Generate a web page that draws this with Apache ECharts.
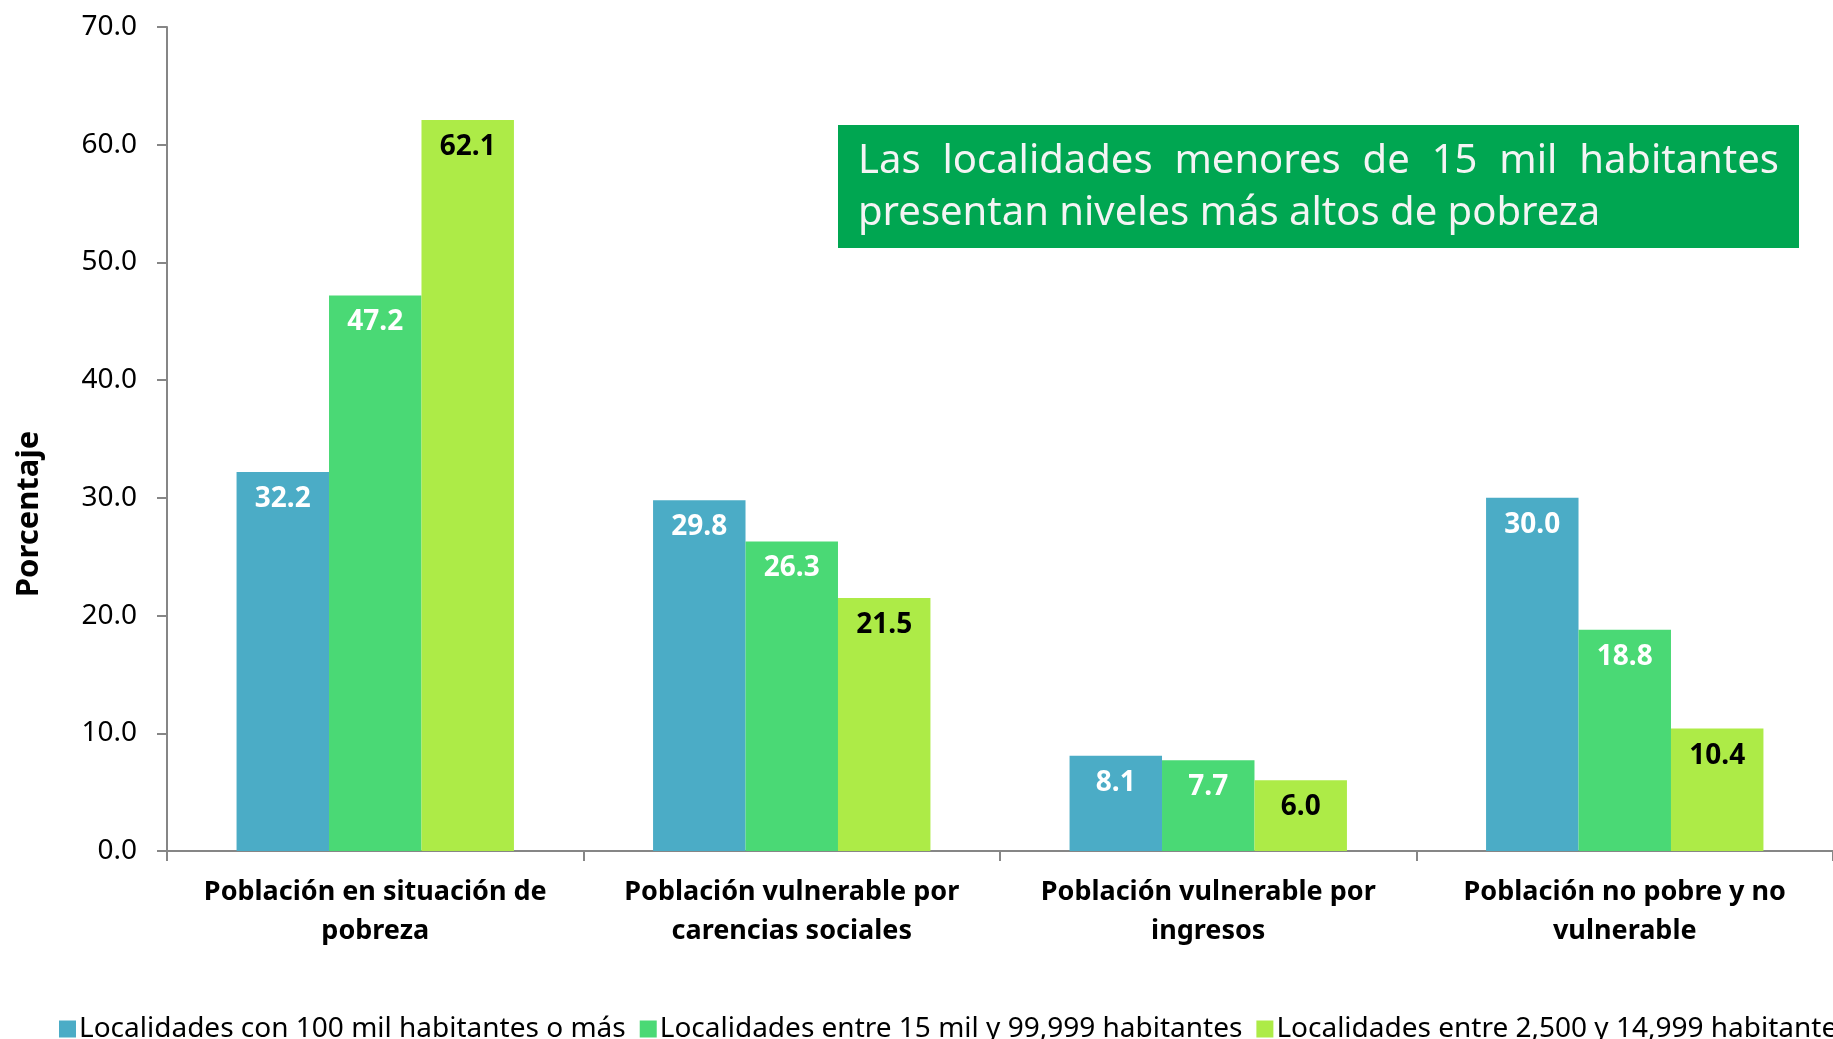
<!DOCTYPE html>
<html>
<head>
<meta charset="utf-8">
<script src="https://cdn.jsdelivr.net/npm/echarts@6/dist/echarts.min.js"></script>
<style>
  html, body { margin: 0; padding: 0; background: #fff; }
  #chart { width: 1833px; height: 1039px; }
</style>
</head>
<body>
<div id="chart"></div>
<script>
// datos
const categorias = [
  'Población en situación de\npobreza',
  'Población vulnerable por\ncarencias sociales',
  'Población vulnerable por\ningresos',
  'Población no pobre y no\nvulnerable'
]
const nombresSeries = [
  'Localidades con 100 mil habitantes o más',
  'Localidades entre 15 mil y 99,999 habitantes',
  'Localidades entre 2,500 y 14,999 habitantes'
]
const grandes = [32.2, 29.8, 8.1, 30.0]
const medianas = [47.2, 26.3, 7.7, 18.8]
const pequenas = [62.1, 21.5, 6.0, 10.4]
const colores = ['#4BACC6', '#4AD975', '#ADEB47']
const colorEtiqueta = ['#ffffff', '#ffffff', '#000000']
const nota = ['Las localidades menores de 15 mil habitantes', 'presentan niveles más altos de pobreza']

const fuente = "'Noto Sans', sans-serif"

// justificar la primera linea de la nota como en el original
function palabras (texto, x0, x1, y, justificar) {
  const ctx = document.createElement('canvas').getContext('2d')
  ctx.font = '40px ' + fuente
  const ws = texto.split(' ')
  const anchos = ws.map(w => ctx.measureText(w).width)
  const total = anchos.reduce((a, b) => a + b, 0)
  const hueco = justificar ? (x1 - x0 - total) / (ws.length - 1) : ctx.measureText(' ').width
  let x = x0
  return ws.map((w, i) => {
    const el = {
      type: 'text',
      x: x,
      y: y,
      style: { text: w, fill: '#F4F4F4', font: '40px ' + fuente, textVerticalAlign: 'middle' }
    }
    x += anchos[i] + hueco
    return el
  })
}

const datos = [grandes, medianas, pequenas]
const series = datos.map((d, i) => ({
  name: nombresSeries[i],
  type: 'bar',
  data: d,
  barGap: 0,
  barCategoryGap: '33.4%',
  itemStyle: { color: colores[i] },
  label: {
    show: true,
    position: 'insideTop',
    distance: 13,
    color: colorEtiqueta[i],
    fontSize: 28,
    fontWeight: 'bold',
    fontFamily: fuente,
    formatter: p => p.value.toFixed(1)
  }
}))

const myChart = echarts.init(document.getElementById('chart'))
const option = {
  animation: false,
  grid: { left: 167, right: -4, top: 27, bottom: 188 },
  xAxis: {
    type: 'category',
    data: categorias,
    axisLine: { lineStyle: { color: '#868686', width: 2 } },
    axisTick: { show: true, length: 10, lineStyle: { color: '#868686', width: 2 } },
    axisLabel: {
      interval: 0,
      margin: 22,
      color: '#000',
      fontSize: 27,
      fontWeight: 'bold',
      lineHeight: 39,
      fontFamily: fuente
    }
  },
  yAxis: {
    type: 'value',
    min: 0,
    max: 70,
    interval: 10,
    splitLine: { show: false },
    axisLine: { show: true, lineStyle: { color: '#868686', width: 2 } },
    axisTick: { show: true, length: 10, lineStyle: { color: '#868686', width: 2 } },
    axisLabel: {
      margin: 30,
      color: '#000',
      fontSize: 28,
      fontFamily: fuente,
      formatter: v => v.toFixed(1)
    }
  },
  legend: {
    left: 54,
    top: 1010,
    width: 3000,
    icon: 'rect',
    itemWidth: 17,
    itemHeight: 17,
    itemGap: 14,
    textStyle: { fontSize: 28, color: '#000', fontFamily: fuente, padding: [0, 0, 0, -2] },
    data: nombresSeries
  },
  graphic: [
    {
      type: 'text',
      x: 29,
      y: 514,
      rotation: Math.PI / 2,
      style: {
        text: 'Porcentaje',
        fill: '#000',
        font: 'bold 31px ' + fuente,
        textAlign: 'center',
        textVerticalAlign: 'middle'
      }
    },
    {
      type: 'rect',
      shape: { x: 838, y: 125, width: 961, height: 123 },
      style: { fill: '#00A651' }
    }
  ].concat(palabras(nota[0], 858, 1779, 162, true), palabras(nota[1], 858, 1779, 214, false)),
  series: series
}
myChart.setOption(option)
</script>
</body>
</html>
